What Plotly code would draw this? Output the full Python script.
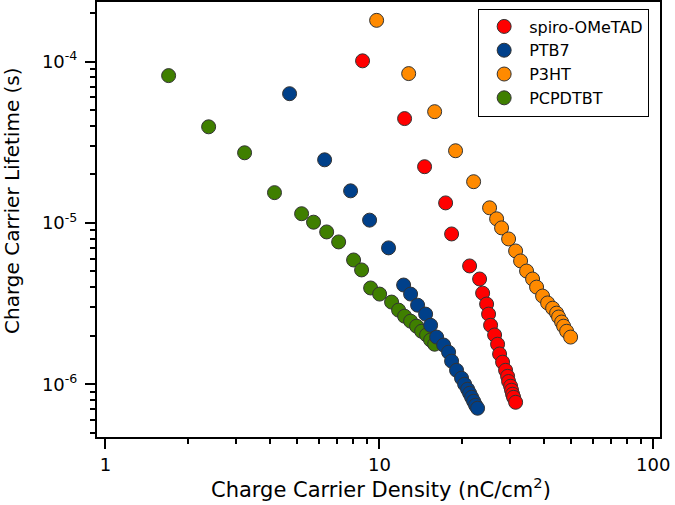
import plotly.graph_objects as go

# values (density in nC/cm^2, lifetime in s)
spiro_density = [8.68, 12.36, 14.62, 17.45, 18.35, 21.35, 23.22, 23.82, 24.63, 25.04, 25.47,
                 26.34, 27.01, 27.47, 28.17, 28.89, 29.38, 29.63, 30.13, 30.38, 30.64, 30.90, 31.43]
spiro_lifetime = [1.01e-4, 4.43e-5, 2.23e-5, 1.33e-5, 8.54e-6, 5.41e-6, 4.49e-6, 3.67e-6, 3.14e-6,
                  2.72e-6, 2.32e-6, 2.02e-6, 1.77e-6, 1.54e-6, 1.37e-6, 1.22e-6, 1.12e-6, 1.04e-6,
                  9.72e-7, 9.18e-7, 8.67e-7, 8.30e-7, 7.73e-7]

ptb7_density = [4.70, 6.31, 7.85, 9.21, 10.80, 12.26, 13.00, 13.79, 14.75, 15.38, 16.18, 17.16,
                17.89, 18.35, 19.13, 19.95, 20.47, 20.99, 21.35, 21.71, 22.08, 22.45, 22.83]
ptb7_lifetime = [6.32e-5, 2.46e-5, 1.58e-5, 1.04e-5, 7.0e-6, 4.12e-6, 3.62e-6, 3.09e-6, 2.72e-6,
                 2.32e-6, 1.96e-6, 1.75e-6, 1.58e-6, 1.39e-6, 1.22e-6, 1.09e-6, 1.0e-6, 9.31e-7,
                 8.79e-7, 8.30e-7, 7.84e-7, 7.41e-7, 7.10e-7]

p3ht_density = [9.77, 12.79, 15.91, 18.97, 22.08, 25.25, 26.79, 27.93, 29.63, 31.43, 32.77, 34.46,
                36.25, 37.49, 39.43, 41.13, 42.90, 44.36, 45.11, 46.27, 47.05, 48.26, 49.91]
p3ht_lifetime = [1.80e-4, 8.42e-5, 4.89e-5, 2.80e-5, 1.80e-5, 1.24e-5, 1.06e-5, 9.31e-6, 7.95e-6,
                 6.70e-6, 5.81e-6, 5.03e-6, 4.49e-6, 4.00e-6, 3.52e-6, 3.19e-6, 2.96e-6, 2.76e-6,
                 2.61e-6, 2.43e-6, 2.29e-6, 2.13e-6, 1.96e-6]

pcpdtbt_density = [1.70, 2.38, 3.22, 4.14, 5.20, 5.75, 6.42, 7.10, 8.05, 8.61, 9.29, 10.02, 11.08,
                   11.75, 12.36, 13.00, 13.67, 14.26, 14.87, 15.38, 15.91]
pcpdtbt_lifetime = [8.18e-5, 3.94e-5, 2.72e-5, 1.54e-5, 1.14e-5, 1.01e-5, 8.79e-6, 7.62e-6, 5.89e-6,
                    5.11e-6, 3.95e-6, 3.62e-6, 3.23e-6, 2.88e-6, 2.64e-6, 2.46e-6, 2.29e-6, 2.13e-6,
                    2.02e-6, 1.88e-6, 1.77e-6]

x_ticks = [1, 10, 100]
x_minor = [2, 3, 4, 5, 6, 7, 8, 9, 20, 30, 40, 50, 60, 70, 80, 90]
y_ticks = [1e-6, 1e-5, 1e-4]
y_ticktext = ['10<sup>-6</sup>', '10<sup>-5</sup>', '10<sup>-4</sup>']
y_minor = [5e-7, 6e-7, 7e-7, 8e-7, 9e-7,
           2e-6, 3e-6, 4e-6, 5e-6, 6e-6, 7e-6, 8e-6, 9e-6,
           2e-5, 3e-5, 4e-5, 5e-5, 6e-5, 7e-5, 8e-5, 9e-5, 2e-4]

x_range = [-0.031, 2.0245]
y_range = [-6.327, -3.631]

# drawn green first so blue sits on top where they overlap; legendrank keeps legend order
series = [
    ('PCPDTBT', pcpdtbt_density, pcpdtbt_lifetime, '#3F7F00', 4),
    ('P3HT', p3ht_density, p3ht_lifetime, '#FF8A00', 3),
    ('PTB7', ptb7_density, ptb7_lifetime, '#00408A', 2),
    ('spiro-OMeTAD', spiro_density, spiro_lifetime, '#FF0000', 1),
]

fig = go.Figure()
for name, xs, ys, color, rank in series:
    fig.add_trace(go.Scatter(
        x=xs, y=ys, mode='markers', name=name, legendrank=rank,
        marker=dict(size=14, color=color, line=dict(color='#333333', width=1)),
    ))

axis_font = dict(family='DejaVu Sans', size=18, color='black')

fig.update_layout(
    width=675, height=505,
    margin=dict(l=97, r=15, t=2, b=68),
    plot_bgcolor='white', paper_bgcolor='white',
    font=dict(family='DejaVu Sans', color='black'),
    xaxis=dict(
        type='log', range=x_range,
        tickmode='array', tickvals=x_ticks, ticktext=[str(v) for v in x_ticks],
        ticks='outside', ticklen=10, tickwidth=1.5, tickcolor='black',
        minor=dict(tickmode='array', tickvals=x_minor, ticks='outside', ticklen=5,
                   tickwidth=1.5, tickcolor='black', showgrid=False),
        showline=True, linecolor='black', linewidth=2, mirror=True,
        showgrid=False, zeroline=False, tickfont=axis_font, automargin=False,
    ),
    yaxis=dict(
        type='log', range=y_range,
        tickmode='array', tickvals=y_ticks, ticktext=y_ticktext,
        ticks='outside', ticklen=10, tickwidth=1.5, tickcolor='black',
        minor=dict(tickmode='array', tickvals=y_minor, ticks='outside', ticklen=5,
                   tickwidth=1.5, tickcolor='black', showgrid=False),
        showline=True, linecolor='black', linewidth=2, mirror=True,
        showgrid=False, zeroline=False, tickfont=axis_font, automargin=False,
        ticklabelstandoff=4,
    ),
    legend=dict(
        x=0.677, y=0.985, xanchor='left', yanchor='top',
        bordercolor='black', borderwidth=1, bgcolor='white', itemwidth=40,
        font=dict(family='DejaVu Sans', size=16, color='black'),
    ),
    annotations=[
        dict(text='Charge Carrier Density (nC/cm<sup>2</sup>)', xref='paper', yref='paper',
             x=0.505, y=-0.118, xanchor='center', yanchor='middle', showarrow=False,
             font=dict(family='DejaVu Sans', size=21, color='black')),
        dict(text='Charge Carrier Lifetime (s)', xref='paper', yref='paper',
             x=-0.151, y=0.545, xanchor='center', yanchor='middle', showarrow=False,
             textangle=-90, font=dict(family='DejaVu Sans', size=20, color='black')),
    ],
)

# the page's default body margin would shift the figure by 8px
fig.write_html('out.html', config={'displayModeBar': False},
               post_script="document.body.style.margin='0';")
